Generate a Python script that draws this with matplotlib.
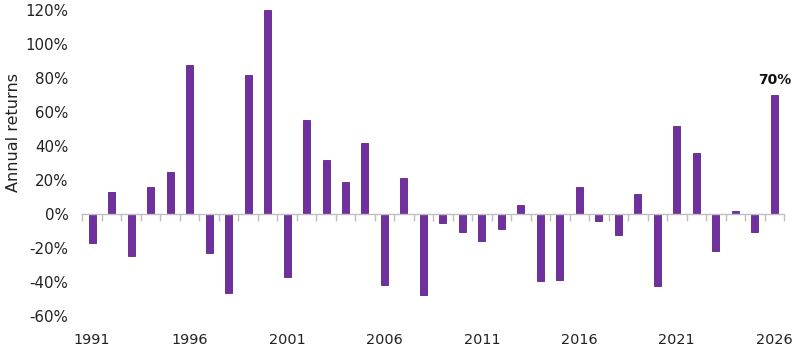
import matplotlib.pyplot as plt
import numpy as np
from matplotlib.ticker import FuncFormatter, FixedLocator

# Annual returns (%)
years = list(range(1991, 2027))
returns = [-17, 13, -25, 16, 24.5, 87.5, -23, -46.5, 82, 120,
           -37, 55, 32, 19, 42, -42, 21, -47.5, -5.5, -10.5,
           -16, -9, 5, -39.5, -39, 16, -4, -12.5, 11.5, -42.5,
           52, 36, -22, 1.5, -10.5, 70]
label_years = [1991, 1996, 2001, 2006, 2011, 2016, 2021, 2026]
highlight = '70%'

purple = '#7030A0'
grey = '#BFBFBF'

fig, ax = plt.subplots(figsize=(8, 3.55), dpi=100)
fig.subplots_adjust(left=0.103, right=0.98, top=0.972, bottom=0.110)

x = np.arange(len(years))
ax.bar(x, returns, width=0.36, color=purple, edgecolor='#5B2483',
       linewidth=0.6, zorder=2)

ax.set_xlim(-0.5, len(years) - 0.5)
ax.set_ylim(-60, 120)
ax.set_yticks(np.arange(-60, 121, 20))
ax.yaxis.set_major_formatter(FuncFormatter(lambda v, p: f'{v:.0f}%'))
ax.tick_params(axis='y', length=0, pad=10, labelsize=10.8, labelcolor='#222222')
ax.set_ylabel('Annual returns', fontsize=11.5, color='#222222')
ax.yaxis.set_label_coords(-0.087, 0.598)

# zero line with boundary ticks
for s in ['top', 'right', 'left']:
    ax.spines[s].set_visible(False)
ax.spines['bottom'].set_position(('data', 0))
ax.spines['bottom'].set_color(grey)
ax.spines['bottom'].set_linewidth(1)
ax.set_xticks([])
ax.xaxis.set_minor_locator(FixedLocator(np.arange(-0.5, len(years), 1)))
ax.tick_params(axis='x', which='minor', length=5, color=grey, width=1)

# year labels at the bottom
sec = ax.secondary_xaxis('bottom')
sec.spines['bottom'].set_visible(False)
sec.set_xticks([years.index(y) for y in label_years])
sec.set_xticklabels([str(y) for y in label_years])
sec.tick_params(length=0, pad=12, labelsize=10.4, labelcolor='#222222')

last = len(years) - 1
ax.annotate(highlight, (x[last], returns[last]), xytext=(0, 6),
            textcoords='offset points', ha='center', va='bottom',
            fontsize=10, fontweight='bold', color='#111111')

fig.savefig('out.png', dpi=100)
